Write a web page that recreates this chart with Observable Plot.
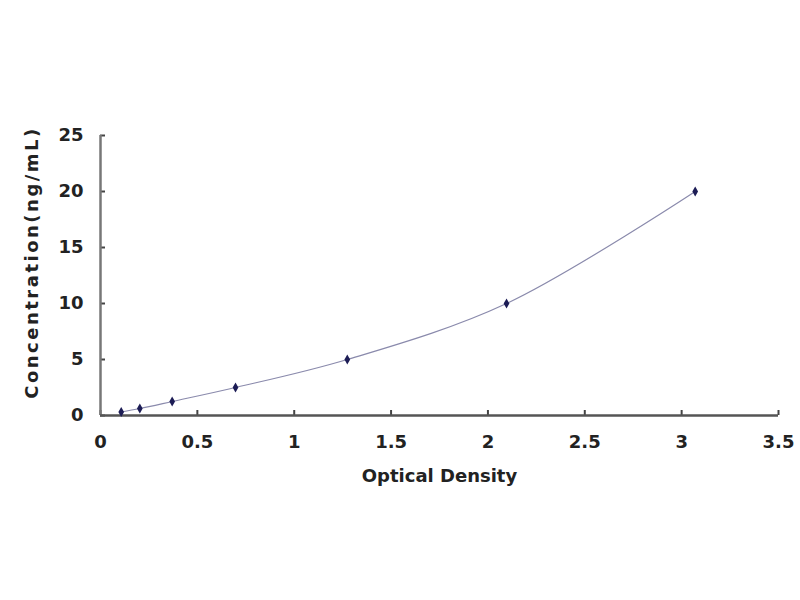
<!DOCTYPE html>
<html><head><meta charset="utf-8">
<script src="https://cdn.jsdelivr.net/npm/d3@7"></script>
<script src="https://cdn.jsdelivr.net/npm/@observablehq/plot@0.6"></script>
<style>body{margin:0;background:#fff}</style>
</head><body><div id="chart"></div>
<script>
const od = [0.107, 0.203, 0.37, 0.697, 1.274, 2.096, 3.07];
const conc = [0.312, 0.625, 1.25, 2.5, 5, 10, 20];
const xTicks = [0, 0.5, 1, 1.5, 2, 2.5, 3, 3.5];
const yTicks = [0, 5, 10, 15, 20, 25];
const xLabel = "Optical Density";
const yLabel = "Concentration(ng/mL)";
const data = od.map((x, i) => ({x, y: conc[i]}));

const chart = Plot.plot({
  width: 800, height: 600,
  marginLeft: 100, marginRight: 22, marginTop: 135, marginBottom: 185,
  style: {fontFamily: "DejaVu Sans", fontWeight: "bold", fontSize: "18px", color: "#222", background: "#fff"},
  x: {domain: [0, 3.5]},
  y: {domain: [0, 25]},
  marks: [
    Plot.axisX({ticks: xTicks, tickSize: -5, tickPadding: 25, tickFormat: d => String(d), label: null, stroke: "#444", strokeWidth: 2}),
    Plot.axisY({ticks: yTicks, tickSize: -5, tickPadding: 22, tickFormat: d => String(d), label: null, stroke: "#444", strokeWidth: 2}),
    Plot.ruleX([0], {stroke: "#777", strokeWidth: 2.5}),
    Plot.ruleY([0], {stroke: "#555", strokeWidth: 2.5}),
    Plot.line(data, {x: "x", y: "y", curve: "catmull-rom", stroke: "#8a8aac", strokeWidth: 1.2}),
    Plot.dot(data, {x: "x", y: "y", symbol: "diamond", r: 3, fill: "#1c1c55"}),
    Plot.text([xLabel], {frameAnchor: "bottom", dy: 66, fontSize: 18, fill: "#222"}),
    Plot.text([yLabel], {frameAnchor: "left", textAnchor: "middle", dx: -68, dy: -13, rotate: -90, fontSize: 18, fill: "#222"})
  ]
});
chart.querySelectorAll("text").forEach(t => {
  if (t.textContent === yLabel) t.setAttribute("letter-spacing", "2.5");
});
document.getElementById("chart").appendChild(chart);
</script>
</body></html>
